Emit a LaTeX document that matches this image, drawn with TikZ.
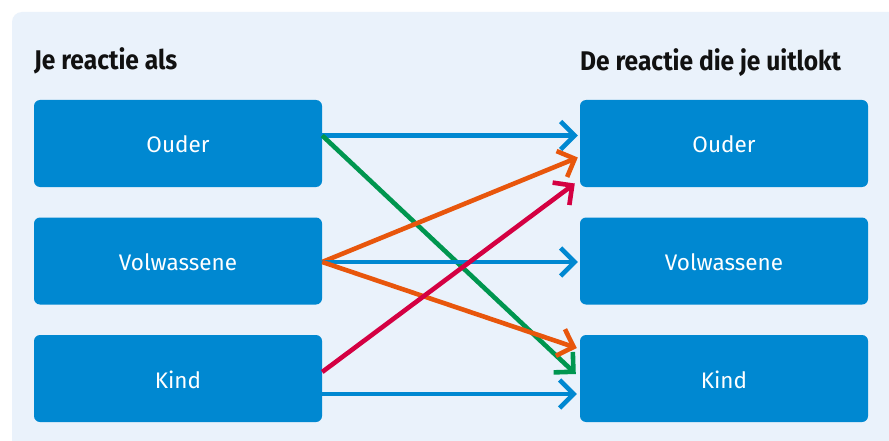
\documentclass[tikz,border=0pt]{standalone}
\usepackage{fontspec}
\setmainfont{Fira Sans}
\newfontfamily\condfont[FakeStretch=0.91]{Fira Sans}
\usetikzlibrary{arrows.meta}
\definecolor{panel}{HTML}{EAF2FB}
\definecolor{boxblue}{HTML}{0088D1}
\definecolor{agreen}{HTML}{00964F}
\definecolor{aorange}{HTML}{E8560C}
\definecolor{ared}{HTML}{D40042}
\definecolor{titletext}{HTML}{111111}
\begin{document}
\begin{tikzpicture}[x=1pt,y=-1pt,
 box/.style={fill=boxblue, rounded corners=6pt, minimum width=288pt, minimum height=87pt, inner sep=0pt, text=white, text height=19pt, text depth=0pt, font=\fontsize{22.5}{26}\selectfont},
 conn/.style={line width=4.6pt, -{Straight Barb[length=14pt,width=28pt,line width=4.6pt]}},
 title/.style={font=\condfont\fontsize{27}{30}\selectfont\bfseries, text=titletext, anchor=base west, inner sep=0pt}]
\useasboundingbox (0,0) rectangle (889,441);
\fill[white] (0,0) rectangle (889,441);
\begin{scope}
\clip (0,0) rectangle (889,441);
\fill[panel, rounded corners=10pt] (12,12) rectangle (905,460);
\end{scope}
\node[title] (t1) at (34,70) {Je reactie als};
\node[title] (t2) at (580,71) {De reactie die je uitlokt};
\node[box] (L1) at (178,143.5) {Ouder};
\node[box] (L2) at (178,261) {Volwassene};
\node[box] (L3) at (178,378.5) {Kind};
\node[box] (R1) at (724,143.5) {Ouder};
\node[box] (R2) at (724,261) {Volwassene};
\node[box] (R3) at (724,378.5) {Kind};
\draw[conn, boxblue] ([yshift=8pt]L1.east) -- ([xshift=-2pt,yshift=8pt]R1.west);
\draw[conn, agreen] ([yshift=8pt]L1.east) -- ([xshift=-4pt,yshift=4.5pt]R3.west);
\draw[conn, aorange] ([yshift=-1pt]L2.east) -- ([xshift=-2pt,yshift=-14pt]R1.west);
\draw[conn, boxblue] ([yshift=-1pt]L2.east) -- ([xshift=-2pt,yshift=-1pt]R2.west);
\draw[conn, aorange] ([yshift=-1pt]L2.east) -- ([xshift=-3pt,yshift=30.5pt]R3.west);
\draw[conn, ared] ([yshift=6.5pt]L3.east) -- ([xshift=-5pt,yshift=-40pt]R1.west);
\draw[conn, boxblue] ([yshift=-15.5pt]L3.east) -- ([xshift=-3pt,yshift=-15.5pt]R3.west);
\end{tikzpicture}
\end{document}
